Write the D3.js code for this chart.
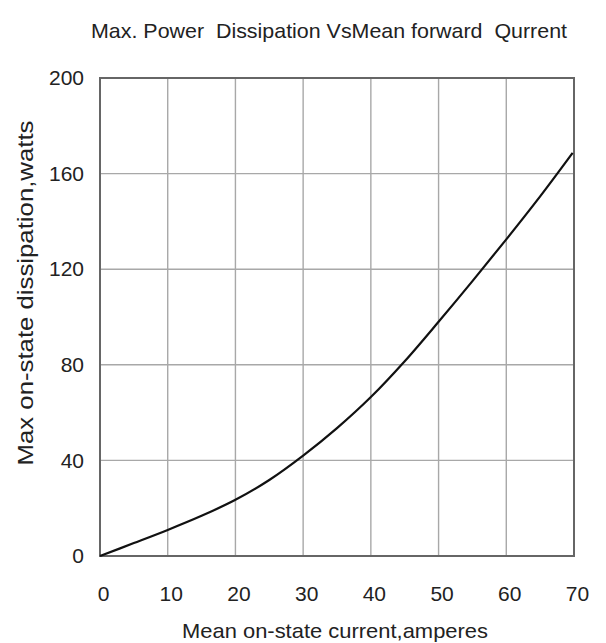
<!DOCTYPE html>
<html>
<head>
<meta charset="utf-8">
<script src="https://cdn.jsdelivr.net/npm/d3@7"></script>
<style>
  body { margin: 0; background: #fff; }
  text { font-family: "Liberation Sans", Arial, sans-serif; fill: #222; }
</style>
</head>
<body>
<svg id="mainsvg" width="606" height="643"></svg>
<script>
// values
const current = [0, 5, 10, 15, 20, 25, 30, 35, 40, 45, 50, 55, 60, 65, 69.8]
const power = [0, 5.4, 10.9, 16.8, 23.5, 31.8, 42, 53.5, 66.5, 81.5, 98, 115, 132.5, 150.5, 168.7]
const xTicks = [0, 10, 20, 30, 40, 50, 60, 70]
const yTicks = [0, 40, 80, 120, 160, 200]

const svg = d3.select('#mainsvg')
const margin = {top: 78, right: 32, bottom: 87, left: 100}
const width = +svg.attr('width') - margin.left - margin.right
const height = +svg.attr('height') - margin.top - margin.bottom

const g = svg.append('g')
  .attr('transform', `translate(${margin.left}, ${margin.top})`)

const x = d3.scaleLinear().domain([0, 70]).range([0, width])
const y = d3.scaleLinear().domain([0, 200]).range([height, 0])

// grid
g.append('g').selectAll('line').data(xTicks.slice(1, -1)).join('line')
  .attr('x1', d => x(d)).attr('x2', d => x(d))
  .attr('y1', 0).attr('y2', height)
  .attr('stroke', '#a8a8a8').attr('stroke-width', 1.4)
g.append('g').selectAll('line').data(yTicks.slice(1, -1)).join('line')
  .attr('y1', d => y(d)).attr('y2', d => y(d))
  .attr('x1', 0).attr('x2', width)
  .attr('stroke', '#a8a8a8').attr('stroke-width', 1.4)

g.append('rect')
  .attr('width', width).attr('height', height)
  .attr('fill', 'none').attr('stroke', '#666').attr('stroke-width', 2)

// axes (labels only)
const xAxis = g.append('g')
  .attr('transform', `translate(0, ${height})`)
  .call(d3.axisBottom(x).tickValues(xTicks).tickSize(0).tickPadding(30))
xAxis.selectAll('text').attr('dx', 3)
const yAxis = g.append('g')
  .call(d3.axisLeft(y).tickValues(yTicks).tickSize(0).tickPadding(16))
;[xAxis, yAxis].forEach(a => {
  a.select('.domain').remove()
  a.selectAll('text').style('font-size', '21px').attr('fill', '#222')
    .style('font-family', '"Liberation Sans", Arial, sans-serif')
})

// curve
const line = d3.line()
  .x((d, i) => x(current[i]))
  .y(d => y(d))
  .curve(d3.curveCatmullRom.alpha(0.5))
g.append('path').datum(power)
  .attr('d', line)
  .attr('fill', 'none').attr('stroke', '#111').attr('stroke-width', 2.2)

// titles
svg.append('text')
  .attr('x', 329).attr('y', 38)
  .attr('text-anchor', 'middle')
  .attr('textLength', 476).attr('lengthAdjust', 'spacingAndGlyphs')
  .style('font-size', '21px').style('white-space', 'pre')
  .text('Max. Power  Dissipation VsMean forward  Qurrent')

svg.append('text')
  .attr('x', 335).attr('y', 638)
  .attr('text-anchor', 'middle')
  .attr('textLength', 306).attr('lengthAdjust', 'spacingAndGlyphs')
  .style('font-size', '21px')
  .text('Mean on-state current,amperes')

svg.append('text')
  .attr('transform', 'translate(33, 293) rotate(-90)')
  .attr('text-anchor', 'middle')
  .attr('textLength', 345).attr('lengthAdjust', 'spacingAndGlyphs')
  .style('font-size', '22px')
  .text('Max on-state dissipation,watts')
</script>
</body>
</html>
